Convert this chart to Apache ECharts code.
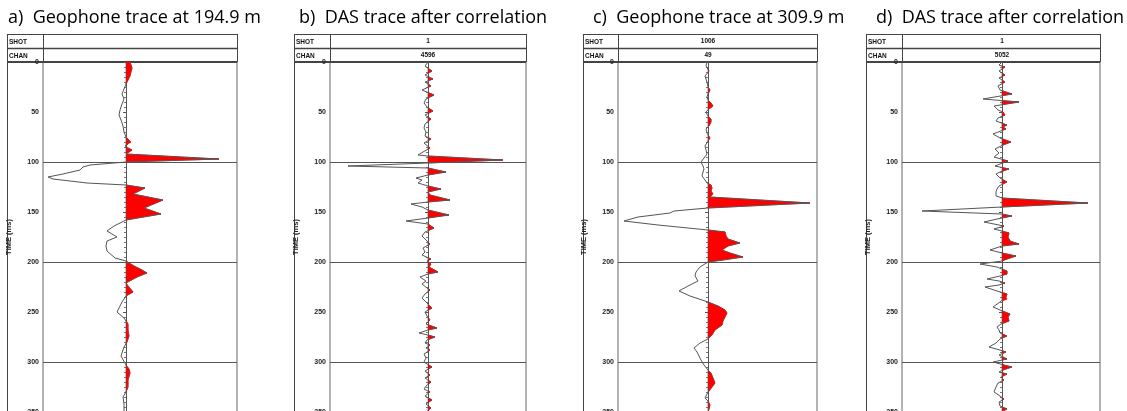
<!DOCTYPE html>
<html><head><meta charset="utf-8">
<script src="https://cdn.jsdelivr.net/npm/echarts@6/dist/echarts.min.js"></script>
<style>html,body{margin:0;padding:0;background:#fff}#c{width:1127px;height:411px}</style>
</head><body><div id="c"></div>
<script>
// ---- data (time in ms, amplitude in relative units, + = right) ----
const titles = ['a)  Geophone trace at 194.9 m','b)  DAS trace after correlation','c)  Geophone trace at 309.9 m','d)  DAS trace after correlation'];
const shotLabels = ['', '1', '1006', '1'];
const chanLabels = ['', '4596', '49', '5052'];
const timeTicks = [0, 50, 100, 150, 200, 250, 300, 350];
const gridTimes = [100, 200, 300];

const aTime = [0,3,6,10,14,18,22,27,32,37,42,48,53,58,64,70,75,78,80,82,84,86,88,90,92,97,100,103,105,108,112,115,117,121,123,126,132,138,146,152,158,164,169,175,179,184,189,196,199,204,208,211,215,221,223,230,234,240,250,256,258,262,268,274,280,285,294,303,307,311,318,325,330,335,342,350];
const aAmp  = [4,5,6,5,4,2,0,-2,-4,-2,-4,-6,-7,-5,-3,-2,0,3,5,2,-1,1,6,3,0,93,0,-36,-43,-46,-63,-78,-73,-39,0,19,7,37,18,35,0,-12,-19,-9,-19,-20,-19,-11,0,8,16,21,11,0,1,7,0,-4,-9,-2,0,2,2,3,1,-2,-5,0,3,4,2,2,0,-3,-2,-2];

const bTime = [0,4,9,13,17,20,24,28,33,37,41,45,49,53,57,62,66,70,74,77,81,86,90,93,94,98,101,104,106,110,113,116,118,121,124,127,130,133,138,140,142,145,148,153,156,159,162,166,170,174,178,182,186,190,193,197,199,202,205,210,212,215,219,222,226,228,232,236,240,246,250,254,258,262,266,268,271,273,275,278,281,283,286,288,292,296,300,305,309,313,316,320,324,327,330,334,338,342,346,350];
const bAmp  = [0,-3,4,-3,5,-3,3,-6,6,-2,-4,-1,5,-3,3,-3,-4,-2,-3,3,-4,2,-5,-10,0,75,0,-80,0,18,0,-12,-6,-10,0,13,0,2,22,0,-17,-6,0,21,0,-22,0,6,-3,-6,-2,2,-5,-3,-6,3,-1,3,1,10,0,-8,-2,-6,-1,2,-3,-6,-2,4,-3,-1,2,-2,9,0,-9,0,7,-1,-3,2,-2,2,-4,-2,-4,4,-3,2,-3,3,-2,-4,2,-3,4,-2,3,-2];

const cTime = [0,4,9,14,20,25,28,32,35,38,41,44,47,50,54,57,60,64,67,71,73,76,79,84,88,92,96,100,104,107,110,114,118,121,123,126,129,132,135,141,146,149,151,155,159,163,168,170,174,177,181,184,188,191,195,198,200,205,210,214,219,224,229,234,240,244,248,251,255,259,263,268,273,277,281,286,290,294,298,303,308,311,316,321,325,329,332,336,339,343,347,350];
const cAmp  = [-1,-2,1,-3,-1,0,2,0,-1,0,3,5,1,-2,0,3,3,1,-2,-1,0,2,0,-3,-2,-1,-4,-7,-5,-4,-5,-6,-3,-1,3,4,3,5,2,102,0,-34,-38,-70,-84,-50,0,17,18,20,32,20,14,22,35,15,0,-8,-12,-13,-10,-20,-29,-18,0,10,17,19,17,15,14,7,4,0,-8,-14,-11,-9,-7,-4,0,3,5,7,4,1,-1,-3,0,2,1,0];

const dTime = [0,3,5,9,13,16,20,24,28,32,37,40,44,48,50,53,56,59,63,65,67,72,76,80,83,87,91,95,99,102,104,107,110,112,116,120,124,127,130,134,136,141,145,149,152,154,157,160,164,167,169,171,175,179,182,184,188,191,194,197,199,202,205,209,212,214,217,219,221,223,225,229,232,235,237,240,245,248,252,255,259,262,265,268,271,274,277,281,285,288,290,293,297,300,303,305,308,310,312,315,318,321,325,330,334,337,340,344,347,350];
const dAmp  = [0,-3,3,-3,3,-3,3,-4,-2,10,-19,17,-8,-4,1,3,-4,-6,5,1,4,-9,-2,9,1,-7,-3,-8,6,-2,-7,7,-2,-6,-2,5,-3,-5,-6,-6,0,86,0,-80,0,10,-5,-18,2,-8,0,7,6,8,17,0,-12,0,14,5,0,-22,-5,5,5,-2,-15,-3,3,-3,-17,-5,5,4,5,-2,-9,-2,8,6,7,-1,-5,-3,-2,5,-2,-6,-13,-2,4,-3,5,-9,2,10,1,-3,5,-1,2,-4,-6,-8,-2,2,-3,-2,5,-1];

const traces = [[aTime,aAmp],[bTime,bAmp],[cTime,cAmp],[dTime,dAmp]];

// ---- layout (pixels) ----
const panels = [
  {outer:7,   col:43,  right:237,  xmin:-83,  xmax:111, title:3},
  {outer:294, col:330, right:526,  xmin:-98,  xmax:98,  title:294},
  {outer:583, col:618, right:817,  xmin:-90,  xmax:109, title:588},
  {outer:866, col:902, right:1100, xmin:-100, xmax:98,  title:871}
];
const TOP = 34, MID = 48, PLOT = 62;

const chart = echarts.init(document.getElementById('c'), null, {renderer:'canvas'});

function fillItem(params, api){
  const t0 = api.value(0), a0 = api.value(1), t1 = api.value(2), a1 = api.value(3);
  if (a0 <= 0 && a1 <= 0) return null;
  let pts;
  if (a0 >= 0 && a1 >= 0) pts = [[0,t0],[a0,t0],[a1,t1],[0,t1]];
  else if (a0 > 0) { const tc = t0 + (t1-t0)*a0/(a0-a1); pts = [[0,t0],[a0,t0],[0,tc]]; }
  else { const tc = t0 + (t1-t0)*(-a0)/(a1-a0); pts = [[0,tc],[a1,t1],[0,t1]]; }
  return {type:'polygon', shape:{points: pts.map(p => api.coord(p))},
          style:{fill:'#ff0000', stroke:'#ff0000', lineWidth:0.6}};
}

const grid = [], xAxis = [], yAxis = [], series = [], title = [], graphic = [];
panels.forEach((p, i) => {
  grid.push({left:p.col, top:PLOT, width:p.right-p.col, height:350, show:true, borderColor:'#666', borderWidth:1,
    containLabel:false, outerBoundsMode:'none'});
  xAxis.push({gridIndex:i, type:'value', min:p.xmin, max:p.xmax, show:false});
  yAxis.push({gridIndex:i, type:'value', inverse:true, min:0, max:350, interval:50,
    name:'TIME (ms)', nameLocation:'middle', nameGap:30,
    nameTextStyle:{fontSize:7.5, fontWeight:'bold', fontFamily:'Liberation Sans', color:'#222'},
    axisLine:{show:true, lineStyle:{color:'#555', width:1}},
    axisTick:{show:true, length:3, lineStyle:{color:'#555'}},
    minorTick:{show:true, splitNumber:10, length:2, lineStyle:{color:'#777'}},
    splitLine:{show:false},
    axisLabel:{fontSize:7, fontWeight:'bold', fontFamily:'Liberation Sans', color:'#222', margin:4,
      formatter: v => timeTicks.includes(v) ? String(v) : ''}
  });
  const [T, A] = traces[i];
  const segs = [];
  for (let k = 0; k < T.length-1; k++) segs.push([T[k], A[k], T[k+1], A[k+1]]);
  series.push({type:'custom', xAxisIndex:i, yAxisIndex:i, z:2, silent:true,
    renderItem: fillItem, encode:{x:[1,3], y:[0,2]}, data: segs});
  series.push({type:'line', xAxisIndex:i, yAxisIndex:i, z:3, silent:true, showSymbol:false, symbol:'none',
    lineStyle:{color:'#555', width:1}, data: T.map((t,k) => [A[k], t]),
    markLine:{silent:true, symbol:'none', label:{show:false}, lineStyle:{color:'#555', width:1, type:'solid'},
      data: gridTimes.map(t => ({yAxis:t}))}});
  title.push({text:titles[i], left:p.title, top:4,
    textStyle:{fontFamily:'Open Sans', fontSize:18, fontWeight:'normal', color:'#000'}});
  const ln = (x1,y1,x2,y2,w) => ({type:'line', silent:true, shape:{x1,y1,x2,y2}, style:{stroke:'#444', lineWidth:w||1}});
  graphic.push(ln(p.outer+0.5, TOP, p.outer+0.5, 411));
  graphic.push(ln(p.outer, TOP+0.5, p.right, TOP+0.5));
  graphic.push(ln(p.outer, MID+0.5, p.right, MID+0.5, 1.5));
  graphic.push(ln(p.outer, PLOT, p.right, PLOT, 2));
  graphic.push(ln(p.col+0.5, TOP, p.col+0.5, PLOT));
  graphic.push(ln(p.right+0.5, TOP, p.right+0.5, PLOT));
  const lab = (txt, x, y) => ({type:'text', silent:true, x, y,
    style:{text:txt, fontSize:6.5, fontWeight:'bold', fontFamily:'Liberation Sans', fill:'#111', verticalAlign:'middle'}});
  graphic.push(lab('SHOT', p.outer+2, (TOP+MID)/2+1));
  graphic.push(lab('CHAN', p.outer+2, (MID+PLOT)/2+1));
  const cx = p.col + (p.right-p.col) * (-p.xmin)/(p.xmax-p.xmin);
  const val = (txt, y) => ({type:'text', silent:true, x:cx, y,
    style:{text:txt, fontSize:6.5, fontWeight:'bold', fontFamily:'Liberation Sans', fill:'#111', align:'center', verticalAlign:'middle'}});
  if (shotLabels[i]) graphic.push(val(shotLabels[i], (TOP+MID)/2));
  if (chanLabels[i]) graphic.push(val(chanLabels[i], (MID+PLOT)/2));
});

chart.setOption({animation:false, backgroundColor:'#fff', title, grid, xAxis, yAxis, series, graphic});
</script></body></html>
